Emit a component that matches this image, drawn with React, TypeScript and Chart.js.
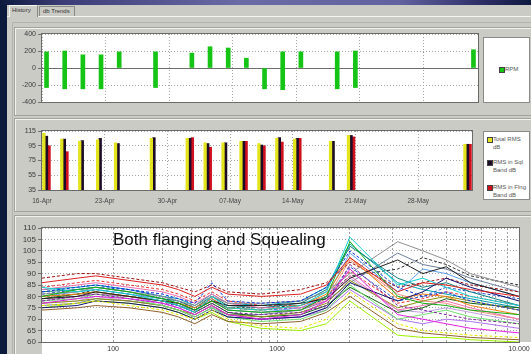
import React, { useEffect, useRef } from 'react';
import { Chart, registerables, LogarithmicScale } from 'chart.js';

Chart.register(...registerables);

const FONT = "'Liberation Sans', Arial, sans-serif";

// ---------- time axis (days after 16-Apr) ----------
const WEEK_DAYS = [0, 7, 14, 21, 28, 35, 42];
const DATE_LABELS = ['16-Apr', '23-Apr', '30-Apr', '07-May', '14-May', '21-May', '28-May'];
const RUN_DAYS = [0.5, 2.5, 4.5, 6.5, 8.5, 12.5, 16.5, 18.5, 20.5, 22.5, 24.5, 26.5, 28.5, 32.5, 34.5, 47.5];

// ---------- RPM (floating bars) ----------
const RPM_MAX = [190, 200, 155, 155, 190, 190, 175, 250, 235, 115, 0, 190, 190, 190, 200, 215];
const RPM_MIN = [-230, -245, -245, -245, 0, -230, 0, 0, 0, 0, -245, -255, 0, -245, -230, 0];

// ---------- RMS dB ----------
const TOTAL_RMS = [112, 104, 101, 103, 99, 105, 105, 99, 99, 101, 98, 105, 104, 101, 109, 97];
const SQL_RMS = [108, 104, 102, 105, 98, 106, 105, 98, 99, 101, 96, 106, 105, 101, 109, 97];
const FLNG_RMS = [95, 87, null, null, null, null, 106, 93, null, 101, 95, 100, 105, null, 107, 97];
const RMS_NAMES = ['Total RMS dB', 'RMS in Sql Band dB', 'RMS in Flng Band dB'];

// ---------- spectra ----------
const SWEEP_FREQS = [40, 63, 80, 125, 200, 250, 315, 400, 500, 800, 1250, 1600, 2000, 3150, 4000, 5000, 6300, 10000];
const FREQ_GRID = [100, 200, 300, 400, 500, 600, 700, 800, 900, 1000, 2000, 3000, 4000, 5000, 6000, 7000, 8000, 9000, 10000];
const FREQ_LABEL_VALUES = [100, 1000, 10000];
const FREQ_LABELS = ['100', '1000', '10.000'];

const SWEEP_01 = [86, 88, 89, 87, 85, 83, 80, 84, 81, 80, 81, 85, 97, 82, 86, 85, 83, 80];
const SWEEP_02 = [82, 84, 85, 83, 81, 79, 77, 86, 78, 77, 78, 84, 100, 84, 80, 82, 78, 74];
const SWEEP_03 = [80, 83, 84, 82, 79, 77, 74, 78, 74, 73, 74, 80, 104, 80, 77, 76, 74, 72];
const SWEEP_04 = [84, 82, 83, 81, 78, 76, 73, 80, 75, 74, 76, 82, 106, 85, 88, 84, 80, 76];
const SWEEP_05 = [77, 79, 80, 79, 77, 75, 72, 76, 72, 70, 72, 78, 92, 72, 70, 68, 66, 64];
const SWEEP_06 = [76, 77, 78, 76, 74, 72, 70, 74, 70, 67, 66, 70, 82, 68, 65, 64, 63, 62];
const SWEEP_07 = [79, 80, 82, 80, 78, 77, 74, 78, 76, 76, 77, 79, 88, 96, 90, 93, 86, 80];
const SWEEP_08 = [81, 82, 84, 82, 80, 78, 76, 80, 77, 77, 78, 82, 90, 104, 100, 96, 90, 84];
const SWEEP_09 = [75, 76, 78, 77, 75, 73, 70, 74, 71, 70, 71, 75, 86, 78, 82, 88, 84, 78];
const SWEEP_10 = [78, 80, 81, 79, 77, 76, 73, 77, 73, 72, 73, 76, 94, 76, 74, 72, 70, 68];
const SWEEP_11 = [80, 81, 82, 80, 78, 77, 75, 79, 75, 74, 76, 81, 97, 79, 81, 80, 76, 72];
const SWEEP_12 = [83, 85, 86, 84, 82, 80, 77, 81, 77, 75, 75, 78, 89, 74, 76, 78, 75, 70];
const SWEEP_13 = [78, 79, 81, 79, 76, 74, 71, 75, 71, 69, 70, 74, 85, 70, 72, 74, 71, 68];
const SWEEP_14 = [82, 83, 84, 82, 79, 78, 75, 80, 76, 75, 77, 83, 102, 88, 84, 86, 82, 76];
const SWEEP_15 = [74, 75, 76, 75, 73, 71, 68, 72, 69, 68, 69, 73, 80, 66, 64, 63, 62, 61];
const SWEEP_16 = [88, 90, 90, 88, 86, 84, 82, 85, 82, 81, 83, 86, 95, 84, 86, 88, 85, 82];
const SWEEP_17 = [80, 82, 83, 81, 79, 76, 74, 79, 74, 73, 75, 80, 99, 82, 92, 90, 86, 80];
const SWEEP_18 = [77, 78, 79, 78, 76, 74, 72, 76, 72, 71, 73, 77, 87, 75, 78, 80, 78, 74];
const SWEEP_19 = [81, 83, 84, 83, 80, 78, 75, 79, 75, 74, 75, 79, 93, 78, 80, 84, 82, 79];
const SWEEP_20 = [79, 81, 82, 80, 78, 76, 73, 77, 73, 71, 72, 76, 84, 73, 75, 79, 77, 75];
const SWEEP_21 = [76, 77, 79, 78, 76, 74, 71, 75, 72, 72, 74, 78, 86, 99, 94, 92, 88, 82];
const SWEEP_22 = [78, 80, 81, 80, 77, 75, 72, 76, 72, 70, 71, 74, 83, 70, 68, 70, 69, 66];
const SWEEP_23 = [84, 86, 87, 85, 83, 81, 78, 82, 78, 76, 76, 80, 91, 77, 79, 82, 80, 76];
const SWEEP_24 = [75, 77, 78, 77, 75, 73, 70, 73, 69, 66, 65, 68, 78, 63, 62, 62, 61, 60];
const SWEEP_25 = [83, 84, 85, 83, 80, 79, 76, 81, 77, 76, 78, 84, 103, 86, 83, 81, 79, 75];
const SWEEP_26 = [79, 80, 81, 80, 78, 76, 74, 78, 74, 73, 74, 79, 96, 81, 78, 77, 74, 70];
const SWEEP_27 = [80, 81, 83, 81, 79, 77, 75, 78, 75, 75, 76, 80, 89, 92, 97, 94, 89, 85];
const SWEEP_28 = [77, 78, 80, 78, 76, 74, 71, 75, 71, 70, 71, 75, 88, 74, 73, 75, 73, 69];

const SWEEPS = [SWEEP_01, SWEEP_02, SWEEP_03, SWEEP_04, SWEEP_05, SWEEP_06, SWEEP_07, SWEEP_08, SWEEP_09, SWEEP_10,
  SWEEP_11, SWEEP_12, SWEEP_13, SWEEP_14, SWEEP_15, SWEEP_16, SWEEP_17, SWEEP_18, SWEEP_19, SWEEP_20,
  SWEEP_21, SWEEP_22, SWEEP_23, SWEEP_24, SWEEP_25, SWEEP_26, SWEEP_27, SWEEP_28];

const SWEEP_COLORS = ['#e02020', '#1030e0', '#10b010', '#10d0d0', '#e020e0', '#e8e800', '#202020', '#909090', '#101070', '#8020a0',
  '#f08010', '#f070b0', '#70e070', '#108080', '#906030', '#a01010', '#60a0f0', '#909010', '#2050d0', '#106010',
  '#7080a0', '#b070f0', '#f03030', '#a0f000', '#00a0b0', '#f09080', '#303030', '#c0a0e0'];
const SWEEP_DASHED = [1, 5, 9, 15, 18, 22, 26];

// ---------- frequency axis shape ----------
const AXIS_FREQS = [40, 100, 1000, 10000];
const AXIS_FRACTIONS = [0, 0.149, 0.493, 1];

class BandLogScale extends LogarithmicScale {
  static id = 'bandlog';
  static defaults = {};
  getPixelForValue(value: any) {
    if (value === undefined || value === 0) value = (this as any).min;
    if (value === null || isNaN(value)) return NaN;
    const lv = Math.log10(value);
    let i = 0;
    while (i < AXIS_FREQS.length - 2 && lv > Math.log10(AXIS_FREQS[i + 1])) i++;
    const l0 = Math.log10(AXIS_FREQS[i]);
    const l1 = Math.log10(AXIS_FREQS[i + 1]);
    const f = AXIS_FRACTIONS[i] + ((lv - l0) / (l1 - l0)) * (AXIS_FRACTIONS[i + 1] - AXIS_FRACTIONS[i]);
    return (this as any).getPixelForDecimal(f);
  }
  getValueForPixel(pixel: number) {
    const f = (this as any).getDecimalForPixel(pixel);
    let i = 0;
    while (i < AXIS_FRACTIONS.length - 2 && f > AXIS_FRACTIONS[i + 1]) i++;
    const l0 = Math.log10(AXIS_FREQS[i]);
    const l1 = Math.log10(AXIS_FREQS[i + 1]);
    const lv = l0 + ((f - AXIS_FRACTIONS[i]) / (AXIS_FRACTIONS[i + 1] - AXIS_FRACTIONS[i])) * (l1 - l0);
    return Math.pow(10, lv);
  }
}
Chart.register(BandLogScale as any);

function makePlotBox(strip: boolean) {
  return {
    id: 'plotBox',
    beforeDraw(chart: any) {
      const { ctx, chartArea: a } = chart;
      ctx.save();
      ctx.fillStyle = '#ffffff';
      ctx.fillRect(a.left, a.top, a.right - a.left, a.bottom - a.top);
      if (strip) ctx.fillRect(a.left, a.bottom, chart.width - a.left, chart.height - a.bottom);
      ctx.restore();
    },
    afterDatasetsDraw(chart: any) {
      const { ctx, chartArea: a } = chart;
      ctx.save();
      ctx.strokeStyle = '#6a6a6a';
      ctx.lineWidth = 1;
      ctx.strokeRect(Math.round(a.left) - 0.5, Math.round(a.top) - 0.5, Math.round(a.right - a.left) + 1, Math.round(a.bottom - a.top) + 1);
      ctx.restore();
    },
  };
}

const tickFont = (size: number) => ({ family: FONT, size });
const DOT = '#a4a4a4';

function dayAxis(showLabels: boolean, height: number) {
  return {
    type: 'linear',
    min: 0,
    max: 48,
    offset: false,
    afterBuildTicks: (s: any) => { s.ticks = WEEK_DAYS.map((v) => ({ value: v })); },
    afterFit: (s: any) => { s.height = height; },
    grid: { color: DOT, drawTicks: false, offset: false },
    border: { display: false, dash: [1, 2] },
    ticks: {
      display: showLabels,
      autoSkip: false,
      maxRotation: 0,
      padding: 7,
      color: '#444',
      font: tickFont(6.5),
      callback: (v: any) => { const i = WEEK_DAYS.indexOf(v); return i >= 0 ? DATE_LABELS[i] : ''; },
    },
  };
}

function valueAxis(min: number, max: number, step: number, size: number, zeroLine: boolean) {
  return {
    min, max,
    afterFit: (s: any) => { s.width = 28; },
    grid: {
      color: (c: any) => (zeroLine && c.tick && c.tick.value === 0 ? '#6e6e6e' : DOT),
      tickColor: '#707070',
      tickBorderDash: [],
      tickLength: 4,
    },
    border: {
      display: false,
      dash: (c: any) => (zeroLine && c.tick && c.tick.value === 0 ? [] : [1, 2]),
    },
    ticks: { stepSize: step, autoSkip: false, padding: 2, color: '#3a3a3a', font: tickFont(size) },
  };
}

export default function App() {
  const c1 = useRef<HTMLCanvasElement>(null);
  const c2 = useRef<HTMLCanvasElement>(null);
  const c3 = useRef<HTMLCanvasElement>(null);

  useEffect(() => {
    const common = {
      responsive: false,
      animation: false,
      devicePixelRatio: 1,
      events: [],
    };
    const rpm = new Chart(c1.current as HTMLCanvasElement, {
      type: 'bar',
      data: {
        datasets: [{
          label: 'RPM',
          data: RUN_DAYS.map((d, i) => ({ x: d, y: [RPM_MIN[i], RPM_MAX[i]] })) as any,
          backgroundColor: '#16c416',
          borderColor: '#0c950c',
          borderWidth: 0,
          barThickness: 4,
          clip: 0,
        }],
      },
      options: {
        ...common,
        layout: { padding: { top: 10, right: 2, bottom: 14, left: 0 } },
        plugins: { legend: { display: false }, tooltip: { enabled: false } },
        scales: { x: dayAxis(false, 0), y: valueAxis(-400, 400, 200, 7, true) },
      } as any,
      plugins: [makePlotBox(false)],
    });

    const rmsColors = ['#e4e41c', '#1c0c28', '#d0101c'];
    const rmsSeries = [TOTAL_RMS, SQL_RMS, FLNG_RMS];
    const rms = new Chart(c2.current as HTMLCanvasElement, {
      type: 'bar',
      data: {
        datasets: rmsSeries.map((s, k) => ({
          label: RMS_NAMES[k],
          data: RUN_DAYS.map((d, i) => ({ x: d, y: s[i] })) as any,
          backgroundColor: rmsColors[k],
          borderWidth: 0,
          barThickness: 2.6,
          clip: 0,
        })),
      },
      options: {
        ...common,
        layout: { padding: { top: 13, right: 4, bottom: 0, left: 0 } },
        plugins: { legend: { display: false }, tooltip: { enabled: false } },
        scales: { x: dayAxis(true, 22), y: valueAxis(35, 115, 20, 7, false) },
      } as any,
      plugins: [makePlotBox(false)],
    });

    const spectra = new Chart(c3.current as HTMLCanvasElement, {
      type: 'line',
      data: {
        datasets: SWEEPS.map((s, k) => ({
          label: 'sweep ' + (k + 1),
          data: SWEEP_FREQS.map((f, j) => ({ x: f, y: s[j] })),
          borderColor: SWEEP_COLORS[k],
          borderWidth: 1,
          borderDash: SWEEP_DASHED.includes(k) ? [3, 2] : [],
          pointRadius: 0,
          tension: 0,
          fill: false,
        })),
      },
      options: {
        ...common,
        layout: { padding: { top: 13, right: 26, bottom: 0, left: 0 } },
        plugins: { legend: { display: false }, tooltip: { enabled: false } },
        scales: {
          x: {
            type: 'bandlog',
            min: 40,
            max: 10000,
            afterBuildTicks: (s: any) => { s.ticks = FREQ_GRID.map((v) => ({ value: v })); },
            afterFit: (s: any) => { s.height = 12; },
            grid: { color: '#a0a0a0', drawTicks: false },
            border: { display: false, dash: [2, 2] },
            ticks: {
              autoSkip: false,
              maxRotation: 0,
              padding: 3,
              color: '#333',
              font: tickFont(7),
              callback: (v: any) => { const i = FREQ_LABEL_VALUES.indexOf(v); return i >= 0 ? FREQ_LABELS[i] : ''; },
            },
          },
          y: valueAxis(60, 110, 5, 8, false),
        },
      } as any,
      plugins: [makePlotBox(true)],
    });

    return () => { rpm.destroy(); rms.destroy(); spectra.destroy(); };
  }, []);

  const GRAY = '#cbcbc6';
  const frame = (top: number, height: number): React.CSSProperties => ({
    position: 'absolute', left: 14, top, width: 530, height,
    border: '1px solid #a2a29e', boxShadow: 'inset 1px 1px 0 #f2f2ee', boxSizing: 'border-box',
  });
  const legendBox = (top: number, height: number): React.CSSProperties => ({
    position: 'absolute', left: 483, top, width: 47, height, background: '#fff',
    border: '1px solid #8a8a8a', boxSizing: 'border-box',
  });
  const legText: React.CSSProperties = { position: 'absolute', fontSize: 6, lineHeight: '8px', color: '#555', fontFamily: FONT, whiteSpace: 'nowrap' };
  const sq = (left: number, top: number, color: string): React.CSSProperties => ({
    position: 'absolute', left, top, width: 4, height: 4, background: color, border: '0.5px solid #444',
  });

  return (
    <div style={{ position: 'fixed', left: 0, top: 0, width: 531, height: 354, overflow: 'hidden', background: '#0c1a3c', fontFamily: FONT }}>
      <div style={{ position: 'absolute', left: 0, top: 0, width: 531, height: 5, background: 'linear-gradient(to right, #0d1a3d 0%, #3c3c78 12%, #6a6aa4 45%, #6262a0 75%, #2a2a62 92%, #0e1a40 100%)' }} />
      <div style={{ position: 'absolute', left: 7, top: 5, width: 524, height: 349, background: GRAY }} />
      {/* tabs */}
      <div style={{ position: 'absolute', left: 7, top: 16, width: 524, height: 1, background: '#f4f4f0' }} />
      <div style={{ position: 'absolute', left: 9, top: 5, width: 29, height: 12, background: GRAY, borderLeft: '1px solid #f4f4f0', borderTop: '1px solid #f4f4f0', borderRight: '1px solid #8a8a86', boxSizing: 'border-box' }}>
        <div style={{ position: 'absolute', left: 2, top: 1, fontSize: 6, color: '#333', whiteSpace: 'nowrap' }}>History</div>
      </div>
      <div style={{ position: 'absolute', left: 39, top: 6, width: 36, height: 10, border: '1px solid #8a8a86', borderBottom: 'none', boxSizing: 'border-box' }}>
        <div style={{ position: 'absolute', left: 3, top: 1, fontSize: 6, color: '#333', whiteSpace: 'nowrap' }}>db Trends</div>
      </div>
      <div style={{ position: 'absolute', left: 12, top: 22, width: 530, height: 340, border: '1px solid #b2b2ae', boxSizing: 'border-box' }} />

      <div style={frame(27, 89)} />
      <div style={frame(118, 94)} />
      <div style={frame(215, 145)} />

      <canvas ref={c1} width={466} height={92} style={{ position: 'absolute', left: 14, top: 24 }} />
      <canvas ref={c2} width={462} height={94} style={{ position: 'absolute', left: 14, top: 118 }} />
      <canvas ref={c3} width={531} height={139} style={{ position: 'absolute', left: 14, top: 215 }} />

      <div style={legendBox(37, 66)}>
        <div style={sq(15, 29, '#16c416')} />
        <div style={{ ...legText, left: 21, top: 27 }}>RPM</div>
      </div>
      <div style={legendBox(131, 69)}>
        <div style={sq(3, 5, '#e4e41c')} />
        <div style={{ ...legText, left: 9, top: 3 }}>Total RMS<br />dB</div>
        <div style={sq(3, 28, '#1c0c28')} />
        <div style={{ ...legText, left: 9, top: 26 }}>RMS in Sql<br />Band dB</div>
        <div style={sq(3, 53, '#d0101c')} />
        <div style={{ ...legText, left: 9, top: 51 }}>RMS in Flng<br />Band dB</div>
      </div>

      <div style={{ position: 'absolute', left: 113, top: 231, fontSize: 17, lineHeight: '17px', color: '#111', whiteSpace: 'nowrap', fontFamily: FONT }}>
        Both flanging and Squealing
      </div>
    </div>
  );
}
